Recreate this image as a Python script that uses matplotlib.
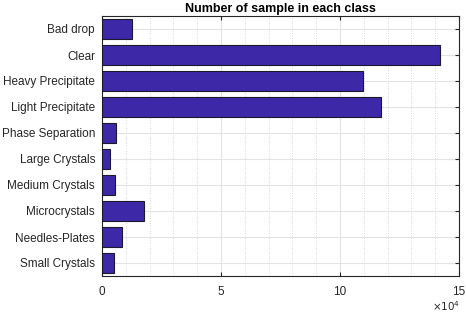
import numpy as np
import matplotlib.pyplot as plt
from matplotlib.ticker import MultipleLocator

classes = ['Bad drop', 'Clear', 'Heavy Precipitate', 'Light Precipitate',
           'Phase Separation', 'Large Crystals', 'Medium Crystals',
           'Microcrystals', 'Needles-Plates', 'Small Crystals']
counts = [12600, 142000, 109800, 117200, 5750, 3200, 5600, 17500, 8300, 5200]

fig = plt.figure(figsize=(4.66, 3.14), dpi=100)
ax = fig.add_axes([102/466, 1 - 276/314, 357/466, 260/314])

y = np.arange(len(classes))
ax.barh(y, counts, height=0.8, color='#3d28a8', edgecolor='#1a1a2e', linewidth=0.8, zorder=3)
ax.set_yticks(y)
ax.set_yticklabels(classes, fontsize=8.5, family='Liberation Sans', color='#262626')
ax.set_ylim(len(classes) - 0.5, -0.5)
ax.set_xlim(0, 150000)
ax.set_xticks([0, 50000, 100000, 150000])
ax.set_xticklabels(['0', '5', '10', '15'], fontsize=8.5, family='Liberation Sans', color='#262626')
ax.xaxis.set_minor_locator(MultipleLocator(10000))
ax.grid(True, which='major', color='#e3e3e3', linewidth=0.8, zorder=0)
ax.grid(True, which='minor', axis='x', color='#c8c8c8', linestyle=(0, (1, 2)), linewidth=0.6, zorder=0)
ax.tick_params(which='major', direction='in', top=True, right=True, length=3, colors='#262626')
ax.tick_params(axis='x', pad=7)
ax.tick_params(axis='y', pad=5)
ax.tick_params(which='minor', length=0)
for s in ax.spines.values():
    s.set_color('#262626')
    s.set_linewidth(0.8)
ax.set_title('Number of sample in each class', fontsize=9, fontweight='bold', family='Liberation Sans', pad=3)
fig.text(460/466, 1 - 313/314, r'$\times10^4$', fontsize=7.5, ha='right', va='bottom', color='#262626')

fig.savefig('out.png', dpi=100)
